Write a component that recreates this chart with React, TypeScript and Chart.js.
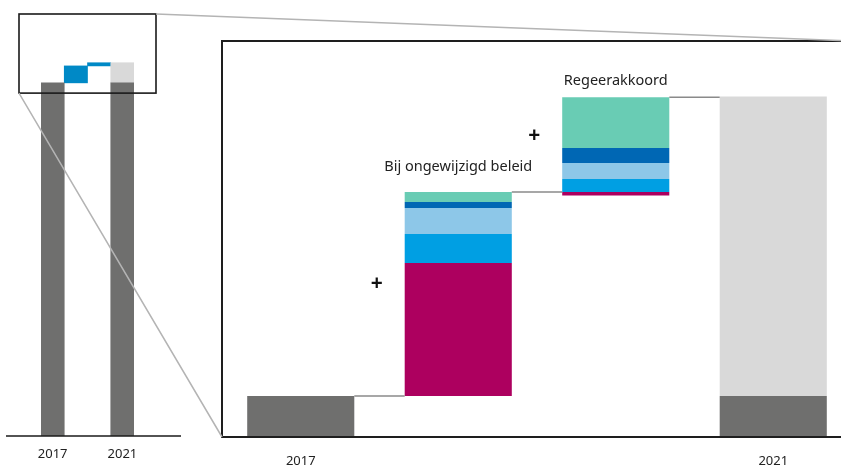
import { useEffect, useRef } from "react";
import { Chart, registerables } from "chart.js";

Chart.register(...registerables);

// ---------- data ----------
const categories = ["2017", "Bij ongewijzigd beleid", "Regeerakkoord", "2021"];
const tickLabels = ["2017", "", "", "2021"];
const componentNames = ["Component 1", "Component 2", "Component 3", "Component 4", "Component 5"];
const componentColors = ["#AD005F", "#009FE3", "#8DC7E8", "#0067B4", "#69CCB4"];

// detail (zoomed) chart
const start2017 = 4.14;
const bijOngewijzigdBeleid = [13.43, 2.93, 2.63, 0.61, 1.01];
const regeerakkoord = [-0.35, 1.3, 1.62, 1.51, 5.15];
const end2021 = 34.4;
const detailAxis = [0, 40];

// overview chart
const overview2017 = 100;
const overviewSteps = [4.8, 0.9];
const overview2021 = 105.7;
const overviewAxis = [0, 119.5];
const zoomWindow = [97.1, 119.5];

// ---------- styles ----------
const FONT = "'Noto Sans', sans-serif";
const GRAY = "#6F6F6E";
const LIGHT_GRAY = "#D9D9D9";
const OVERVIEW_BLUE = "#0089C6";
const TEXT = "#222222";

type Rect = { left: number; top: number; right: number; bottom: number };

export default function App() {
  const smallRef = useRef<HTMLCanvasElement | null>(null);
  const bigRef = useRef<HTMLCanvasElement | null>(null);

  useEffect(() => {
    Chart.defaults.font.family = FONT;
    const zoomRect: Rect = { left: 0, top: 0, right: 0, bottom: 0 };
    const BOX_PAD = 22;
    const AXIS_EXT_LEFT = 35;
    const AXIS_EXT_RIGHT = 47;

    // ---------- overview chart ----------
    const n = categories.length;
    const ovBase = categories.map((_, i) => (i === 0 || i === n - 1 ? [0, overview2017] : null));
    const ovRest = categories.map((_, i) => (i === n - 1 ? [overview2017, overview2021] : null));
    let lvl = overview2017;
    const ovSteps = categories.map((_, i) => {
      if (i === 0 || i === n - 1) return null;
      const v = overviewSteps[i - 1];
      const r = [lvl, lvl + v];
      lvl += v;
      return r;
    });

    const overviewPlugin = {
      id: "overviewDecor",
      afterDatasetsDraw(chart: any) {
        const { ctx, chartArea: a, scales } = chart;
        const y = scales.y;
        zoomRect.left = a.left - BOX_PAD;
        zoomRect.right = a.right + BOX_PAD;
        zoomRect.top = y.getPixelForValue(zoomWindow[1]);
        zoomRect.bottom = y.getPixelForValue(zoomWindow[0]);
        ctx.save();
        ctx.strokeStyle = "#1a1a1a";
        ctx.lineWidth = 1.6;
        ctx.beginPath();
        ctx.moveTo(a.left - AXIS_EXT_LEFT, a.bottom);
        ctx.lineTo(a.right + AXIS_EXT_RIGHT, a.bottom);
        ctx.stroke();
        ctx.lineWidth = 1.6;
        ctx.strokeRect(zoomRect.left, zoomRect.top, zoomRect.right - zoomRect.left, zoomRect.bottom - zoomRect.top);
        ctx.restore();
      },
    };

    const small = new Chart(smallRef.current as HTMLCanvasElement, {
      type: "bar",
      data: {
        labels: categories,
        datasets: [
          { label: "Basis", data: ovBase as any, backgroundColor: GRAY },
          { label: "Toename", data: ovRest as any, backgroundColor: LIGHT_GRAY },
          { label: "Stappen", data: ovSteps as any, backgroundColor: OVERVIEW_BLUE },
        ].map((d) => ({ ...d, grouped: false, barPercentage: 1, categoryPercentage: 1, borderWidth: 0 })),
      },
      options: {
        responsive: false,
        animation: false,
        events: [],
        layout: { padding: { left: 41, right: 66, top: 14, bottom: 0 } },
        plugins: { legend: { display: false }, tooltip: { enabled: false } },
        scales: {
          x: {
            grid: { display: false, drawTicks: false },
            border: { display: false },
            ticks: {
              autoSkip: false,
              maxRotation: 0,
              padding: 10,
              color: TEXT,
              font: { size: 13, family: FONT },
              callback: (_v: any, i: number) => tickLabels[i],
            },
            afterFit: (s: any) => {
              s.height = 30;
            },
          },
          y: { display: false, min: overviewAxis[0], max: overviewAxis[1] },
        },
      },
      plugins: [overviewPlugin],
    });

    // ---------- detail chart ----------
    const dBase = categories.map((_, i) => (i === 0 || i === n - 1 ? [0, start2017] : null));
    const dRest = categories.map((_, i) => (i === n - 1 ? [start2017, end2021] : null));
    const comps: any[][] = componentNames.map(() => categories.map(() => null));
    const tops: number[] = [start2017];
    const bottoms: number[] = [0];
    let level = start2017;
    [bijOngewijzigdBeleid, regeerakkoord].forEach((vals, k) => {
      const ci = k + 1;
      let up = level;
      let down = level;
      vals.forEach((v, j) => {
        if (v >= 0) {
          comps[j][ci] = [up, up + v];
          up += v;
        } else {
          comps[j][ci] = [down + v, down];
          down += v;
        }
      });
      tops[ci] = up;
      bottoms[ci] = down;
      level = up;
    });
    tops[n - 1] = end2021;
    bottoms[n - 1] = 0;

    const labelGap: Record<number, number> = { 1: 21, 2: 12 };

    const detailPlugin = {
      id: "detailDecor",
      afterDatasetsDraw(chart: any) {
        const { ctx, chartArea: a, scales } = chart;
        const x = scales.x;
        const y = scales.y;
        const el: any = chart.getDatasetMeta(0).data[0];
        const half = el.width / 2;
        ctx.save();
        // connectors
        ctx.strokeStyle = "#8a8a8a";
        ctx.lineWidth = 1.5;
        for (let i = 0; i < n - 1; i++) {
          const yy = y.getPixelForValue(tops[i]);
          ctx.beginPath();
          ctx.moveTo(x.getPixelForValue(i) + half, yy);
          ctx.lineTo(x.getPixelForValue(i + 1) - half, yy);
          ctx.stroke();
        }
        // labels and plus signs
        ctx.fillStyle = TEXT;
        for (let i = 1; i < n - 1; i++) {
          const cx = x.getPixelForValue(i);
          const top = y.getPixelForValue(tops[i]);
          const bot = y.getPixelForValue(bottoms[i]);
          ctx.font = `14.5px ${FONT}`;
          ctx.textAlign = "center";
          ctx.textBaseline = "alphabetic";
          ctx.fillText(categories[i], cx, top - labelGap[i]);
          ctx.fillStyle = "#111111";
          ctx.font = `bold 21px ${FONT}`;
          ctx.textBaseline = "middle";
          ctx.fillText("+", cx - half - 28, (top + bot) / 2 - 10);
          ctx.fillStyle = TEXT;
        }
        // frame
        ctx.strokeStyle = "#1e1e1e";
        ctx.lineWidth = 2;
        ctx.beginPath();
        ctx.moveTo(a.right, a.top);
        ctx.lineTo(a.left, a.top);
        ctx.lineTo(a.left, a.bottom);
        ctx.lineTo(a.right, a.bottom);
        ctx.stroke();
        ctx.restore();
      },
      afterDraw(chart: any) {
        const { ctx, chartArea: a } = chart;
        ctx.save();
        ctx.strokeStyle = "#b4b4b4";
        ctx.lineWidth = 1.5;
        ctx.beginPath();
        ctx.moveTo(zoomRect.right, zoomRect.top);
        ctx.lineTo(a.right, a.top);
        ctx.moveTo(zoomRect.left, zoomRect.bottom);
        ctx.lineTo(a.left, a.bottom);
        ctx.stroke();
        ctx.restore();
      },
    };

    const big = new Chart(bigRef.current as HTMLCanvasElement, {
      type: "bar",
      data: {
        labels: categories,
        datasets: [
          { label: "Basis", data: dBase as any, backgroundColor: GRAY },
          { label: "Toename", data: dRest as any, backgroundColor: LIGHT_GRAY },
          ...componentNames.map((name, j) => ({ label: name, data: comps[j], backgroundColor: componentColors[j] })),
        ].map((d) => ({ ...d, grouped: false, barPercentage: 0.68, categoryPercentage: 1, borderWidth: 0 })),
      },
      options: {
        responsive: false,
        animation: false,
        events: [],
        layout: { padding: { left: 222, right: 0, top: 41, bottom: 0 } },
        plugins: { legend: { display: false }, tooltip: { enabled: false } },
        scales: {
          x: {
            grid: { display: false, drawTicks: false },
            border: { display: false },
            ticks: {
              autoSkip: false,
              maxRotation: 0,
              padding: 16,
              color: TEXT,
              font: { size: 13, family: FONT },
              callback: (_v: any, i: number) => tickLabels[i],
            },
            afterFit: (s: any) => {
              s.height = 29;
            },
          },
          y: { display: false, min: detailAxis[0], max: detailAxis[1] },
        },
      },
      plugins: [detailPlugin],
    });

    return () => {
      big.destroy();
      small.destroy();
    };
  }, []);

  return (
    <div
      style={{
        position: "fixed",
        left: 0,
        top: 0,
        width: 841,
        height: 466,
        overflow: "hidden",
        background: "#ffffff",
      }}
    >
      <canvas
        ref={smallRef}
        width={200}
        height={466}
        style={{ position: "absolute", left: 0, top: 0, width: 200, height: 466 }}
      />
      <canvas
        ref={bigRef}
        width={852}
        height={466}
        style={{ position: "absolute", left: 0, top: 0, width: 852, height: 466 }}
      />
    </div>
  );
}
